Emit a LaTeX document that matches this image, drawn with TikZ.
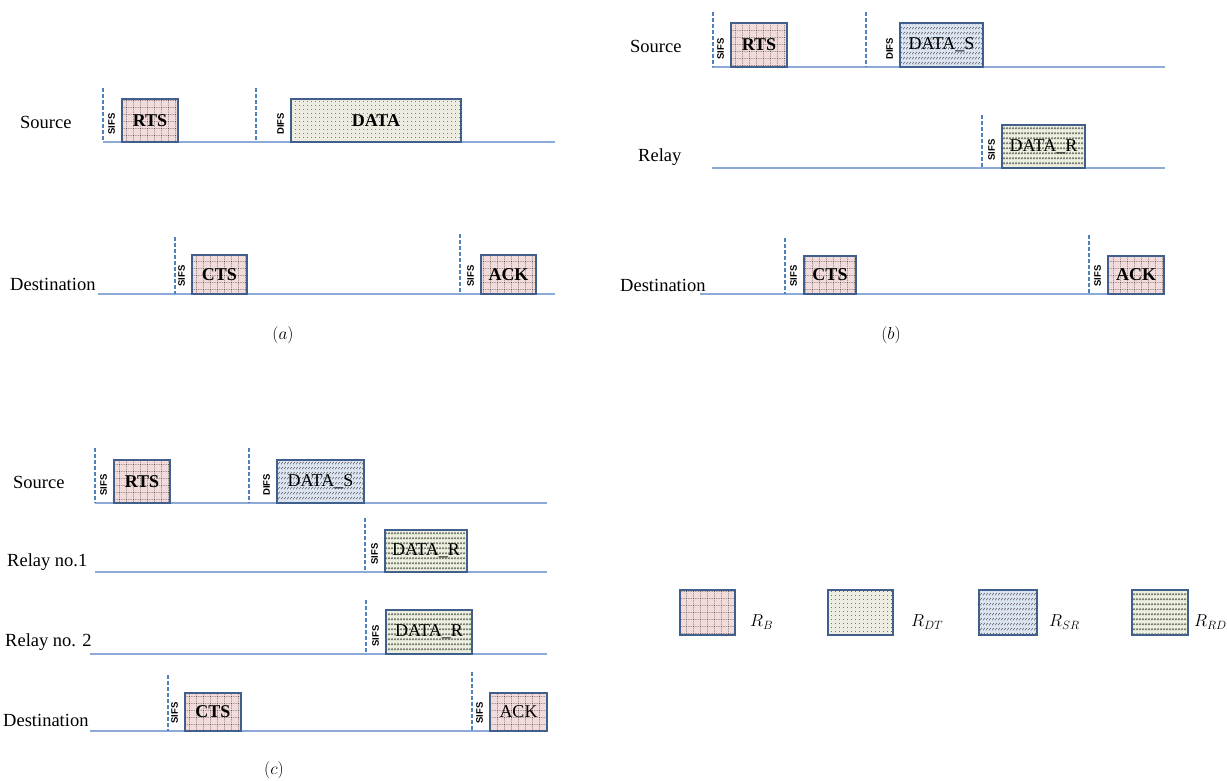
\documentclass[tikz,border=0pt]{standalone}
\usepackage{fontspec}
\setmainfont{Liberation Serif}
\setsansfont{Liberation Sans}
\usetikzlibrary{patterns,patterns.meta,calc}

\definecolor{bordc}{RGB}{65,95,140}
\definecolor{pinkc}{RGB}{242,220,219}
\definecolor{beigec}{RGB}{238,236,225}
\definecolor{bluec}{RGB}{219,229,241}
\definecolor{greenc}{RGB}{235,241,222}
\definecolor{tlc}{RGB}{140,170,215}
\definecolor{sepc}{RGB}{79,129,189}
\definecolor{patc}{RGB}{80,70,70}

\pgfdeclarepattern{name=gridpat, type=uncolored,
  bottom left={\pgfpoint{0pt}{0pt}}, top right={\pgfpoint{7pt}{7pt}},
  tile size={\pgfpoint{7pt}{7pt}},
  code={\pgfsetlinewidth{0.5pt}\pgfsetdash{{1pt}{1pt}}{0pt}
    \pgfpathmoveto{\pgfpoint{0pt}{0.5pt}}\pgfpathlineto{\pgfpoint{7pt}{0.5pt}}
    \pgfpathmoveto{\pgfpoint{0.5pt}{0pt}}\pgfpathlineto{\pgfpoint{0.5pt}{7pt}}
    \pgfusepath{stroke}}}
\pgfdeclarepattern{name=dotpat, type=uncolored,
  bottom left={\pgfpoint{0pt}{0pt}}, top right={\pgfpoint{3.5pt}{3.5pt}},
  tile size={\pgfpoint{3.5pt}{3.5pt}},
  code={\pgfpathcircle{\pgfpoint{1.75pt}{1.75pt}}{0.45pt}\pgfusepath{fill}}}
\pgfdeclarepattern{name=slashpat, type=uncolored,
  bottom left={\pgfpoint{0pt}{0pt}}, top right={\pgfpoint{2.5pt}{5pt}},
  tile size={\pgfpoint{2.5pt}{5pt}},
  code={\pgfsetlinewidth{0.55pt}
    \pgfpathmoveto{\pgfpoint{0pt}{0.8pt}}\pgfpathlineto{\pgfpoint{2.2pt}{3.6pt}}
    \pgfusepath{stroke}}}
\pgfdeclarepattern{name=zigpat, type=uncolored,
  bottom left={\pgfpoint{0pt}{0pt}}, top right={\pgfpoint{2.5pt}{5pt}},
  tile size={\pgfpoint{2.5pt}{5pt}},
  code={\pgfsetlinewidth{0.55pt}
    \pgfpathmoveto{\pgfpoint{0pt}{1pt}}\pgfpathlineto{\pgfpoint{1.25pt}{3.2pt}}
    \pgfpathlineto{\pgfpoint{2.5pt}{1pt}}
    \pgfusepath{stroke}}}

\newcommand\pkt[7]{\node[#2, minimum width={(#5-#3)*1pt}, minimum height={(#6-#4)*1pt}] (#1) at ({(#3+#5)/2},{(#4+#6)/2}) {#7};}
\newcommand\gaplab[3]{\node[gaplbl] (#1) at ($(#2.south west)+(-9.5,-19)$) {#3};}

\begin{document}
\begin{tikzpicture}[x=1pt,y=-1pt,
  pktbox/.style={draw=bordc, line width=2pt, inner sep=0pt,
    font=\fontsize{18}{20}\selectfont},
  rb/.style={pktbox, preaction={fill=pinkc}, pattern=gridpat, pattern color=patc},
  rdt/.style={pktbox, preaction={fill=beigec}, pattern=dotpat, pattern color=patc},
  rsr/.style={pktbox, preaction={fill=bluec}, pattern=slashpat, pattern color=patc},
  rrd/.style={pktbox, preaction={fill=greenc}, pattern=zigpat, pattern color=patc},
  tl/.style={draw=tlc, line width=1.2pt},
  sep/.style={draw=sepc, line width=1.1pt, dash pattern=on 3.5pt off 2.5pt},
  gaplbl/.style={font=\sffamily\bfseries\fontsize{9.5}{10}\selectfont, rotate=90, inner sep=0pt},
  rowlbl/.style={font=\fontsize{18.5}{20}\selectfont, anchor=west, inner sep=0pt},
  capt/.style={font=\fontsize{17}{19}\selectfont, inner sep=0pt},
  leg/.style={font=\fontsize{16.5}{19}\selectfont, anchor=west, inner sep=0pt}]
\useasboundingbox (0,0) rectangle (1227,780);

% ---------------- (a) ----------------
\node[rowlbl] (aS) at (20,122) {Source};
\coordinate (aS1) at (103,142); \coordinate (aS2) at (555,142);
\draw[tl] (aS1) -- (aS2);
\draw[sep] (103,88) -- (103,142);
\pkt{artsA}{rb}{122}{99}{178}{142}{\bfseries RTS}
\gaplab{aG1}{artsA}{SIFS}
\draw[sep] (256,88) -- (256,142);
\pkt{adata}{rdt}{291}{99}{461}{142}{\bfseries DATA}
\gaplab{aG2}{adata}{DIFS}

\node[rowlbl] (aD) at (10,284) {Destination};
\coordinate (aD1) at (98,294); \coordinate (aD2) at (555,294);
\draw[tl] (aD1) -- (aD2);
\draw[sep] (175,237) -- (175,294);
\pkt{acts}{rb}{192}{255}{247}{294}{\bfseries CTS}
\gaplab{aG3}{acts}{SIFS}
\draw[sep] (460,234) -- (460,294);
\pkt{aack}{rb}{481}{255}{536}{294}{\bfseries ACK}
\gaplab{aG4}{aack}{SIFS}
\node[capt] (capa) at (283,335) {$(a)$};

% ---------------- (b) ----------------
\node[rowlbl] (bS) at (630,46) {Source};
\coordinate (bS1) at (712,67); \coordinate (bS2) at (1165,67);
\draw[tl] (bS1) -- (bS2);
\draw[sep] (713,12) -- (713,67);
\pkt{brts}{rb}{731}{23}{787}{67}{\bfseries RTS}
\gaplab{bG1}{brts}{SIFS}
\draw[sep] (866,12) -- (866,67);
\pkt{bdatas}{rsr}{900}{23}{983}{67}{DATA\_S}
\gaplab{bG2}{bdatas}{DIFS}

\node[rowlbl] (bR) at (638,157) {Relay};
\coordinate (bR1) at (712,168); \coordinate (bR2) at (1165,168);
\draw[tl] (bR1) -- (bR2);
\draw[sep] (982,115) -- (982,168);
\pkt{bdatar}{rrd}{1002}{125}{1085}{168}{DATA\_R}
\gaplab{bG3}{bdatar}{SIFS}

\node[rowlbl] (bD) at (620,285) {Destination};
\coordinate (bD1) at (700,294); \coordinate (bD2) at (1165,294);
\draw[tl] (bD1) -- (bD2);
\draw[sep] (785,238) -- (785,294);
\pkt{bcts}{rb}{804}{256}{856}{294}{\bfseries CTS}
\gaplab{bG4}{bcts}{SIFS}
\draw[sep] (1089,235) -- (1089,294);
\pkt{back}{rb}{1108}{256}{1164}{294}{\bfseries ACK}
\gaplab{bG5}{back}{SIFS}
\node[capt] (capb) at (891,335) {$(b)$};

% ---------------- (c) ----------------
\node[rowlbl] (cS) at (13,482) {Source};
\coordinate (cS1) at (95,503); \coordinate (cS2) at (547,503);
\draw[tl] (cS1) -- (cS2);
\draw[sep] (95,448) -- (95,503);
\pkt{crts}{rb}{114}{460}{170}{503}{\bfseries RTS}
\gaplab{cG1}{crts}{SIFS}
\draw[sep] (249,448) -- (249,503);
\pkt{cdatas}{rsr}{277}{460}{364}{503}{DATA\_S}
\gaplab{cG2}{cdatas}{DIFS}

\node[rowlbl] (cR1) at (7,562) {Relay no.1};
\coordinate (cR1a) at (95,572); \coordinate (cR1b) at (547,572);
\draw[tl] (cR1a) -- (cR1b);
\draw[sep] (365,518) -- (365,572);
\pkt{cdatar1}{rrd}{385}{530}{467}{572}{DATA\_R}
\gaplab{cG3}{cdatar1}{SIFS}

\node[rowlbl] (cR2) at (5,642) {Relay no. 2};
\coordinate (cR2a) at (90,654); \coordinate (cR2b) at (547,654);
\draw[tl] (cR2a) -- (cR2b);
\draw[sep] (366,600) -- (366,654);
\pkt{cdatar2}{rrd}{386}{610}{472}{654}{DATA\_R}
\gaplab{cG4}{cdatar2}{SIFS}

\node[rowlbl] (cD) at (3,720) {Destination};
\coordinate (cD1) at (90,731); \coordinate (cD2) at (547,731);
\draw[tl] (cD1) -- (cD2);
\draw[sep] (168,675) -- (168,731);
\pkt{ccts}{rb}{185}{693}{241}{731}{\bfseries CTS}
\gaplab{cG5}{ccts}{SIFS}
\draw[sep] (472,672) -- (472,731);
\pkt{cack}{rb}{490}{693}{547}{731}{ACK}
\gaplab{cG6}{cack}{SIFS}
\node[capt] (capc) at (274,770) {$(c)$};

% ---------------- legend ----------------
\pkt{lrb}{rb}{680}{590}{735}{635}{}
\node[leg] (lrbt) at (750,622) {$R_B$};
\pkt{lrdt}{rdt}{828}{590}{893}{635}{}
\node[leg] (lrdtt) at (911,622) {$R_{DT}$};
\pkt{lrsr}{rsr}{979}{590}{1037}{635}{}
\node[leg] (lrsrt) at (1049,622) {$R_{SR}$};
\pkt{lrrd}{rrd}{1132}{590}{1188}{635}{}
\node[leg] (lrrdt) at (1194,622) {$R_{RD}$};
\end{tikzpicture}
\end{document}
